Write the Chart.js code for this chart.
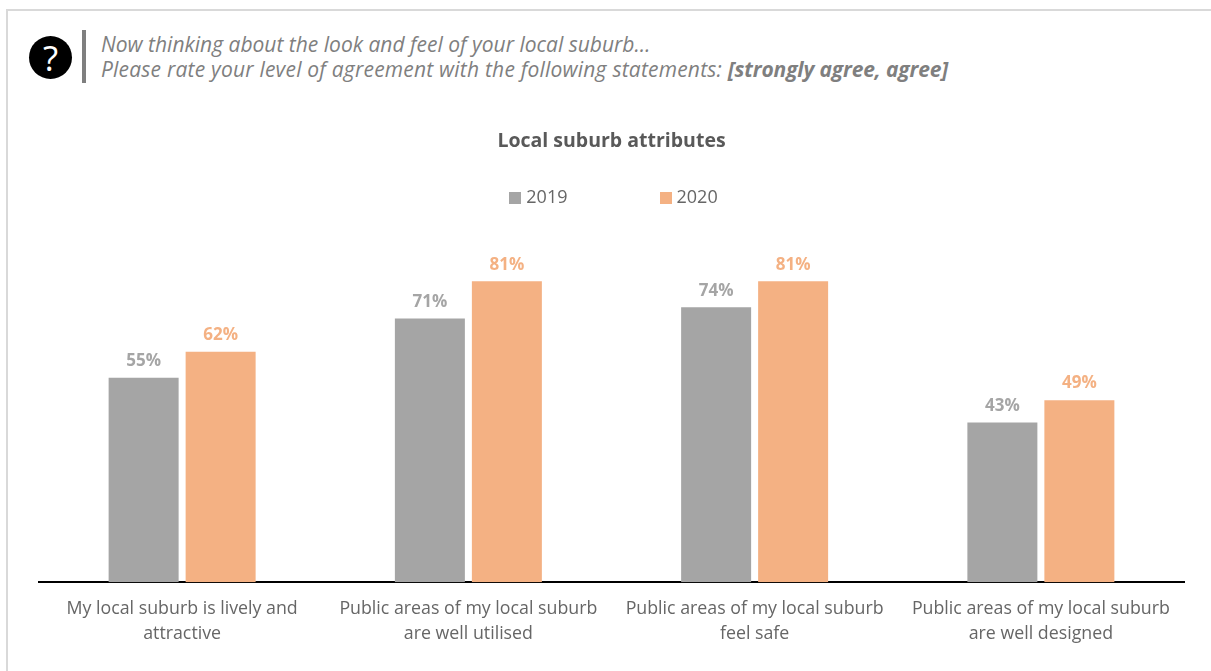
<!DOCTYPE html>
<html>
<head>
<meta charset="utf-8">
<script src="https://cdn.jsdelivr.net/npm/chart.js@4"></script>
<style>
  html, body { margin: 0; padding: 0; background: #fff; overflow: hidden; }
  body { width: 1211px; height: 671px; position: relative; font-family: "Open Sans", sans-serif; }
  #frame { position: absolute; left: 6px; top: 9px; width: 1205px; height: 662px; box-sizing: border-box;
           border-left: 2px solid #d9d9d9; border-top: 2px solid #d9d9d9; }
  #icon { position: absolute; left: 29px; top: 36px; width: 43px; height: 43px; border-radius: 50%; background: #000;
          color: #fff; font: 400 35px/43px "Open Sans", sans-serif; text-align: center; }
  #rule { position: absolute; left: 82px; top: 30px; width: 4px; height: 53px; background: #7f7f7f; }
  #question { position: absolute; left: 101px; top: 32px; color: #7f7f7f; font: italic 21px/25px "Open Sans", sans-serif; white-space: nowrap; }
  #question .wide { letter-spacing: 0.21px; }
  #question b { letter-spacing: -0.15px; }
  #wrap { position: absolute; left: 12px; top: 0; width: 1199px; height: 671px; }
</style>
</head>
<body>
<div id="frame"></div>
<div id="icon">?</div>
<div id="rule"></div>
<div id="question">Now thinking about the look and feel of your local suburb…<br><span class="wide">Please rate your level of agreement with the following statements: </span><b>[strongly agree, agree]</b></div>
<div id="wrap"><canvas id="chart" width="1199" height="671"></canvas></div>
<script>
const categories = [
  ["My local suburb is lively and", "attractive"],
  ["Public areas of my local suburb", "are well utilised"],
  ["Public areas of my local suburb", "feel safe"],
  ["Public areas of my local suburb", "are well designed"]
];
const values2019 = [55, 71, 74, 43];
const values2020 = [62, 81, 81, 49];
const grey = "#a5a5a5";
const peach = "#f4b183";
const textGrey = "#666666";

// Legend marker: a small square drawn wider than its layout box so the text sits close to it.
function swatch(color) {
  const c = document.createElement("canvas");
  c.width = 12; c.height = 12;
  const g = c.getContext("2d");
  g.fillStyle = color;
  g.fillRect(0, 0, 12, 12);
  return c;
}

// Writes each bar's percentage just above the bar, in the bar's colour.
const valueLabels = {
  id: "valueLabels",
  afterDatasetsDraw(chart) {
    const ctx = chart.ctx;
    ctx.save();
    ctx.font = '700 17px "Open Sans", sans-serif';
    ctx.textAlign = "center";
    ctx.textBaseline = "middle";
    chart.data.datasets.forEach((ds, i) => {
      ctx.fillStyle = ds.backgroundColor;
      chart.getDatasetMeta(i).data.forEach((bar, j) => {
        ctx.fillText(ds.data[j] + "%", bar.x, bar.y - 16.5);
      });
    });
    ctx.restore();
  }
};

// Nudges the centred legend row slightly to the right of the chart's midline.
const legendOffset = {
  id: "legendOffset",
  afterLayout(chart) {
    chart.legend.left += 4;
    chart.legend.right += 4;
  }
};

new Chart(document.getElementById("chart"), {
  type: "bar",
  data: {
    labels: categories,
    datasets: [
      { label: "2019", data: values2019, backgroundColor: grey, categoryPercentage: 0.538, barPercentage: 0.909 },
      { label: "2020", data: values2020, backgroundColor: peach, categoryPercentage: 0.538, barPercentage: 0.909 }
    ]
  },
  plugins: [valueLabels, legendOffset],
  options: {
    responsive: false,
    animation: false,
    layout: { padding: { left: 27, right: 27, top: 0, bottom: 11 } },
    plugins: {
      tooltip: { enabled: false },
      title: {
        display: true,
        text: "Local suburb attributes",
        color: "#595959",
        font: { family: '"Open Sans", sans-serif', size: 19.5, weight: "700", lineHeight: 1.2 },
        // The legend's vertical padding is tied to its item spacing, so the title box is pulled up to leave room.
        padding: { top: 130, bottom: -60.4 }
      },
      legend: {
        position: "top",
        labels: {
          usePointStyle: true,
          boxWidth: 4,
          boxHeight: 12,
          color: textGrey,
          padding: 96,
          font: { family: '"Open Sans", sans-serif', size: 18 },
          generateLabels(chart) {
            return Chart.defaults.plugins.legend.labels.generateLabels(chart).map((item, i) => {
              item.pointStyle = swatch(chart.data.datasets[i].backgroundColor);
              return item;
            });
          }
        }
      }
    },
    scales: {
      x: {
        grid: { display: false, drawTicks: false },
        border: { display: true, color: "#000", width: 2 },
        ticks: { color: textGrey, padding: 14, maxRotation: 0, autoSkip: false,
                 font: { family: '"Open Sans", sans-serif', size: 17.8, lineHeight: 1.4 } }
      },
      y: { display: false, min: 0, max: 98.3 }
    }
  }
});
</script>
</body>
</html>
